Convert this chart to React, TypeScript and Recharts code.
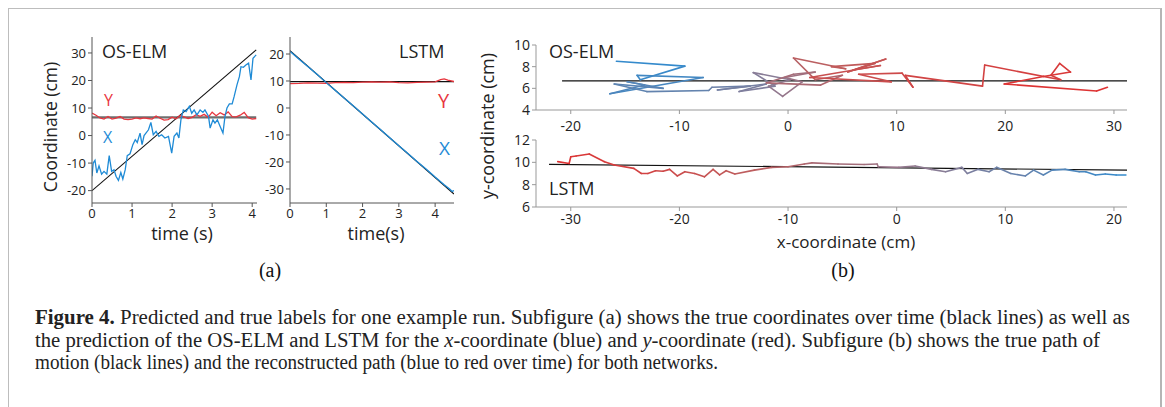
import React from "react";
import { ComposedChart, Line, XAxis, YAxis } from "recharts";

// (a) OS-ELM, coordinates over time
const elmXTime = [0, 0.03, 0.075, 0.12, 0.175, 0.24, 0.3, 0.37, 0.43, 0.49, 0.55, 0.6, 0.66, 0.72, 0.77, 0.83, 0.88, 0.95, 1.02, 1.08, 1.13, 1.2, 1.25, 1.3, 1.41, 1.47, 1.53, 1.6, 1.67, 1.74, 1.82, 1.91, 1.99, 2.05, 2.12, 2.17, 2.22, 2.28, 2.35, 2.43, 2.49, 2.55, 2.62, 2.7, 2.77, 2.82, 2.91, 2.95, 3.02, 3.07, 3.13, 3.2, 3.27, 3.32, 3.37, 3.43, 3.5, 3.55, 3.62, 3.68, 3.72, 3.78, 3.85, 3.91, 3.97, 4.02, 4.1];
const elmXPred = [-14.8, -10, -9, -13.6, -11, -14, -13, -14, -7.3, -13, -12.4, -14.8, -16.3, -13.4, -15.8, -12.4, -7.3, -6.6, -3.3, -1.5, -2.5, 0.9, -3.3, 0, 2.1, 4.8, 0.3, 1.5, -0.3, 0.3, -0.9, -0.3, -6.4, -0.3, 0.9, -0.9, 5.7, 9.3, 8.7, 10.6, 8.1, 9.3, 7.5, 9.3, 8.4, 9.3, 6.9, 2.7, 5.7, 4.5, 5.7, 3.3, 0.9, 6.9, 10, 11.5, 11.5, 14.2, 18.4, 21.4, 25, 24.8, 25.7, 26.3, 20.2, 28.1, 29.3];
const elmYTime = [0, 0.1, 0.2, 0.3, 0.4, 0.5, 0.6, 0.7, 0.8, 0.9, 1, 1.1, 1.2, 1.3, 1.4, 1.5, 1.6, 1.7, 1.8, 1.9, 2, 2.1, 2.2, 2.3, 2.4, 2.5, 2.6, 2.7, 2.8, 2.9, 3, 3.1, 3.2, 3.3, 3.4, 3.5, 3.6, 3.7, 3.8, 3.9, 4, 4.1];
const elmYPred = [8.2, 7.4, 6.4, 6.0, 6.9, 6.0, 6.3, 6.9, 6.0, 5.8, 6.0, 6.4, 6.1, 6.4, 6.2, 6.0, 7.1, 6.3, 5.6, 5.8, 6.7, 6.1, 7.3, 6.8, 6.2, 6.6, 7.6, 7.0, 7.7, 6.6, 8.5, 7.2, 8.3, 7.5, 8.6, 6.9, 6.8, 7.4, 8.4, 6.5, 6.0, 6.2];
const elmTrueTime = [0, 4.1];
const elmTrueX = [-20, 31.1];
const elmTrueY = [6.6, 6.6];

// (a) LSTM, coordinates over time
const lstmXTime = [0, 0.25, 0.5, 0.75, 1, 1.25, 1.5, 1.75, 2, 2.25, 2.5, 2.75, 3, 3.25, 3.5, 3.75, 4, 4.25, 4.4, 4.47, 4.52];
const lstmXPred = [21, 18.1, 15.3, 12.4, 9.4, 6.5, 3.6, 0.7, -2.2, -5.2, -8.1, -11.0, -14.0, -16.9, -19.8, -22.6, -25.6, -28.4, -30.0, -30.9, -30.6];
const lstmYTime = [0, 0.25, 0.5, 0.75, 1, 1.25, 1.5, 1.75, 2, 2.25, 2.5, 2.75, 3, 3.25, 3.5, 3.75, 4, 4.15, 4.25, 4.35, 4.52];
const lstmYPred = [9.0, 9.1, 9.3, 9.2, 9.1, 9.4, 9.5, 9.4, 9.6, 9.7, 9.6, 9.7, 9.4, 9.3, 9.5, 9.6, 9.7, 10.5, 10.8, 10.3, 9.8];
const lstmTrueTime = [0, 4.52];
const lstmTrueX = [21.2, -31.9];
const lstmTrueY = [9.75, 9.75];

// (b) paths in the x-y plane, in time order
const elmPathX = [-15.8, -9.5, -13.6, -13.9, -7.8, -16.4, -13.2, -14.8, -11.5, -16.0, -13.0, -7.3, -7.0, -3.5, -6.5, -2.0, -4.5, -1.2, -3.2, 0.2, -1.8, -0.5, 1.3, -0.3, 2.5, 0.5, -2.0, 3.0, 5.0, 2.5, 0.5, 5.3, 4.0, 8.0, 5.5, 9.0, 6.0, 8.5, 2.0, 9.5, 6.5, 10.5, 11.5, 10.8, 17.9, 18.1, 25.1, 24.2, 25.0, 26.0, 23.5, 19.9, 28.4, 29.4];
const elmPathY = [8.5, 8.05, 6.8, 7.2, 7.0, 5.5, 6.3, 6.6, 6.0, 6.4, 5.7, 5.8, 6.1, 6.2, 5.85, 6.4, 5.7, 6.2, 7.45, 6.8, 6.2, 5.25, 6.6, 7.0, 7.5, 7.3, 6.5, 6.3, 7.2, 6.8, 8.8, 7.8, 8.0, 8.3, 7.5, 8.7, 7.7, 8.1, 7.0, 6.6, 7.3, 7.4, 6.1, 7.2, 6.2, 8.15, 6.8, 7.2, 8.3, 7.5, 7.1, 6.4, 5.75, 6.1];
const elmTruePathX = [-20.8, 31.2];
const elmTruePathY = [6.68, 6.68];

const lstmPathX = [21.1, 20.2, 19.2, 18.3, 17.4, 16.8, 15.5, 14.3, 13.5, 12.6, 11.85, 10.5, 9.2, 8.5, 7.5, 6.5, 6.0, 4.5, 3.2, 1.7, 0.2, -1.7, -1.8, -3.0, -5.4, -7.8, -8.5, -10.0, -11.5, -13.1, -14.9, -15.7, -16.3, -16.9, -17.7, -18.6, -19.5, -20.2, -20.9, -21.5, -22.2, -22.9, -23.5, -24.2, -26.0, -26.9, -28.3, -29.5, -30.0, -30.15, -31.2];
const lstmPathY = [8.87, 8.87, 8.96, 8.87, 9.16, 9.16, 9.37, 9.3, 8.87, 9.3, 8.78, 9.0, 9.55, 9.16, 9.37, 9.0, 9.55, 9.16, 9.37, 9.67, 9.55, 9.6, 9.85, 9.8, 9.85, 9.95, 9.85, 9.6, 9.55, 9.3, 8.96, 9.25, 8.87, 9.37, 8.7, 9.0, 9.16, 8.78, 9.37, 9.2, 9.25, 9.0, 9.0, 9.46, 9.76, 10.06, 10.75, 10.57, 10.5, 9.9, 10.06];
const lstmTruePathX = [-32, 21.4];
const lstmTruePathY = [9.82, 9.3];

const timeTicks = [0, 1, 2, 3, 4];
const elmCoordTicks = [-20, -10, 0, 10, 20, 30];
const lstmCoordTicks = [-30, -20, -10, 0, 10, 20];
const elmPathXTicks = [-20, -10, 0, 10, 20, 30];
const elmPathYTicks = [4, 6, 8, 10];
const lstmPathXTicks = [-30, -20, -10, 0, 10, 20];
const lstmPathYTicks = [6, 8, 10, 12];

const FONT = "'Open Sans', 'Noto Sans', sans-serif";
const SERIF = "'Liberation Serif', serif";
const BLUE = "#1f8bd6";
const RED = "#e8363e";

const pts = (xs: number[], ys: number[]) => xs.map((x, i) => ({ x, y: ys[i] }));

// blue -> grey-purple -> red over time
const stops: [number, number[]][] = [
  [0, [52, 138, 204]],
  [0.35, [138, 125, 150]],
  [0.6, [192, 92, 92]],
  [1, [222, 50, 50]],
];
function pathColor(f: number) {
  for (let i = 1; i < stops.length; i++) {
    const [f1, c1] = stops[i];
    const [f0, c0] = stops[i - 1];
    if (f <= f1) {
      const k = (f - f0) / (f1 - f0);
      const c = c0.map((v, j) => Math.round(v + (c1[j] - v) * k));
      return `rgb(${c.join(",")})`;
    }
  }
  return "rgb(222,50,50)";
}

function segments(xs: number[], ys: number[]) {
  return xs.slice(1).map((_, i) => ({
    color: pathColor(i / (xs.length - 2)),
    data: [
      { x: xs[i], y: ys[i] },
      { x: xs[i + 1], y: ys[i + 1] },
    ],
  }));
}

const tickA = { fill: "#222", fontSize: 13, fontFamily: FONT };
const tickB = { fill: "#222", fontSize: 14, fontFamily: FONT };

function TimePlot(props: {
  left: number;
  domainX: [number, number];
  domainY: [number, number];
  yTicks: number[];
  right: number;
  xPred: { x: number; y: number }[];
  yPred: { x: number; y: number }[];
  trueX: { x: number; y: number }[];
  trueY: { x: number; y: number }[];
  trueYColor: string;
  trueYWidth: number;
}) {
  return (
    <div style={{ position: "absolute", left: props.left, top: 27 }}>
      <ComposedChart width={220} height={200} margin={{ top: 10, right: props.right, bottom: 4, left: 10 }}>
        <XAxis
          dataKey="x"
          type="number"
          domain={props.domainX}
          ticks={timeTicks}
          interval={0}
          allowDataOverflow
          height={20}
          tickSize={4}
          stroke="#555"
          tick={tickA}
        />
        <YAxis
          type="number"
          domain={props.domainY}
          ticks={props.yTicks}
          interval={0}
          allowDataOverflow
          width={30}
          tickSize={4}
          stroke="#555"
          tick={tickA}
        />
        <Line data={props.trueY} dataKey="y" stroke={props.trueYColor} strokeWidth={props.trueYWidth} dot={false} isAnimationActive={false} />
        <Line data={props.trueX} dataKey="y" stroke="#111" strokeWidth={1.1} dot={false} isAnimationActive={false} />
        <Line data={props.yPred} dataKey="y" stroke={RED} strokeWidth={1.3} dot={false} isAnimationActive={false} />
        <Line data={props.xPred} dataKey="y" stroke={BLUE} strokeWidth={1.3} dot={false} isAnimationActive={false} />
      </ComposedChart>
    </div>
  );
}

function PathPlot(props: {
  top: number;
  plotHeight: number;
  domainX: [number, number];
  domainY: [number, number];
  xTicks: number[];
  yTicks: number[];
  tickMargin: number;
  path: ReturnType<typeof segments>;
  truth: { x: number; y: number }[];
}) {
  return (
    <div style={{ position: "absolute", left: 496, top: props.top }}>
      <ComposedChart width={650} height={props.plotHeight + 40} margin={{ top: 10, right: 19, bottom: 0, left: 10 }}>
        <XAxis
          dataKey="x"
          type="number"
          domain={props.domainX}
          ticks={props.xTicks}
          interval={0}
          allowDataOverflow
          height={30}
          tickSize={4}
          tickMargin={props.tickMargin}
          stroke="#999"
          tick={tickB}
        />
        <YAxis
          type="number"
          domain={props.domainY}
          ticks={props.yTicks}
          interval={0}
          allowDataOverflow
          width={30}
          tickSize={4}
          stroke="#999"
          tick={tickB}
        />
        <Line data={props.truth} dataKey="y" stroke="#111" strokeWidth={1.2} dot={false} isAnimationActive={false} />
        {props.path.map((s, i) => (
          <Line
            key={i}
            data={s.data}
            dataKey="y"
            stroke={s.color}
            strokeWidth={1.6}
            strokeLinecap="round"
            dot={false}
            isAnimationActive={false}
          />
        ))}
      </ComposedChart>
    </div>
  );
}

export default function App() {
  const label = { fontFamily: FONT, fill: "#222" };
  return (
    <div style={{ position: "absolute", left: 0, top: 0, width: 1165, height: 407, background: "#fff", overflow: "hidden" }}>
      <div
        style={{
          position: "absolute",
          left: 8,
          top: 8,
          width: 1151,
          height: 420,
          borderTop: "1px solid #bdbdbd",
          borderLeft: "1px solid #bdbdbd",
          borderRight: "2px solid #b5b5b5",
        }}
      />
      <TimePlot
        left={52}
        right={15}
        domainX={[0, 4.12]}
        domainY={[-24.5, 35.8]}
        yTicks={elmCoordTicks}
        xPred={pts(elmXTime, elmXPred)}
        yPred={pts(elmYTime, elmYPred)}
        trueX={pts(elmTrueTime, elmTrueX)}
        trueY={pts(elmTrueTime, elmTrueY)}
        trueYColor="#6e6e6e"
        trueYWidth={2.4}
      />
      <TimePlot
        left={250}
        right={16}
        domainX={[0, 4.52]}
        domainY={[-35.2, 26.3]}
        yTicks={lstmCoordTicks}
        xPred={pts(lstmXTime, lstmXPred)}
        yPred={pts(lstmYTime, lstmYPred)}
        trueX={pts(lstmTrueTime, lstmTrueX)}
        trueY={pts(lstmTrueTime, lstmTrueY)}
        trueYColor="#111"
        trueYWidth={1.1}
      />
      <PathPlot
        top={35}
        plotHeight={65}
        domainX={[-23.2, 31.2]}
        domainY={[4, 10]}
        xTicks={elmPathXTicks}
        yTicks={elmPathYTicks}
        tickMargin={7}
        path={segments(elmPathX, elmPathY)}
        truth={pts(elmTruePathX, elmTruePathY)}
      />
      <PathPlot
        top={130}
        plotHeight={67}
        domainX={[-33.2, 21.2]}
        domainY={[6, 12]}
        xTicks={lstmPathXTicks}
        yTicks={lstmPathYTicks}
        tickMargin={3}
        path={segments(lstmPathX, lstmPathY)}
        truth={pts(lstmTruePathX, lstmTruePathY)}
      />
      <svg width={1165} height={407} style={{ position: "absolute", left: 0, top: 0, pointerEvents: "none" }}>
        <text x={102} y={58} fontSize={18} {...label}>OS-ELM</text>
        <text x={104} y={106} fontSize={16} fontFamily={FONT} fill={RED}>Y</text>
        <text x={103} y={143} fontSize={16} fontFamily={FONT} fill={BLUE}>X</text>
        <text x={399} y={58} fontSize={18} {...label}>LSTM</text>
        <text x={438} y={108} fontSize={20} fontFamily={FONT} fill={RED}>Y</text>
        <text x={439} y={155} fontSize={19} fontFamily={FONT} fill={BLUE}>X</text>
        <text transform="translate(57,127) rotate(-90)" textAnchor="middle" fontSize={17.5} {...label}>Coordinate (cm)</text>
        <text x={182} y={240} textAnchor="middle" fontSize={18} {...label}>time (s)</text>
        <text x={376} y={240} textAnchor="middle" fontSize={18} {...label}>time(s)</text>
        <text x={549} y={58} fontSize={18} {...label}>OS-ELM</text>
        <text x={549} y={195} fontSize={18} {...label}>LSTM</text>
        <text transform="translate(494,126) rotate(-90)" textAnchor="middle" fontSize={18} {...label}>y-coordinate (cm)</text>
        <text x={846} y={248} textAnchor="middle" fontSize={17} {...label}>x-coordinate (cm)</text>
        <text x={270} y={277} textAnchor="middle" fontSize={20} fontFamily={SERIF} fill="#111">(a)</text>
        <text x={843} y={277} textAnchor="middle" fontSize={20} fontFamily={SERIF} fill="#111">(b)</text>
        <g fontFamily={SERIF} fontSize={20} fill="#222">
          <text x={35} y={324} textLength={1095} lengthAdjust="spacingAndGlyphs">
            <tspan fontWeight="bold">Figure 4.</tspan>
            {"  Predicted and true labels for one example run. Subfigure (a) shows the true coordinates over time (black lines) as well as"}
          </text>
          <text x={35} y={347} textLength={1065} lengthAdjust="spacingAndGlyphs">
            {"the prediction of the OS-ELM and LSTM for the "}
            <tspan fontStyle="italic">x</tspan>
            {"-coordinate (blue) and "}
            <tspan fontStyle="italic">y</tspan>
            {"-coordinate (red). Subfigure (b) shows the true path of"}
          </text>
          <text x={35} y={369} textLength={683} lengthAdjust="spacingAndGlyphs">
            motion (black lines) and the reconstructed path (blue to red over time) for both networks.
          </text>
        </g>
      </svg>
    </div>
  );
}
